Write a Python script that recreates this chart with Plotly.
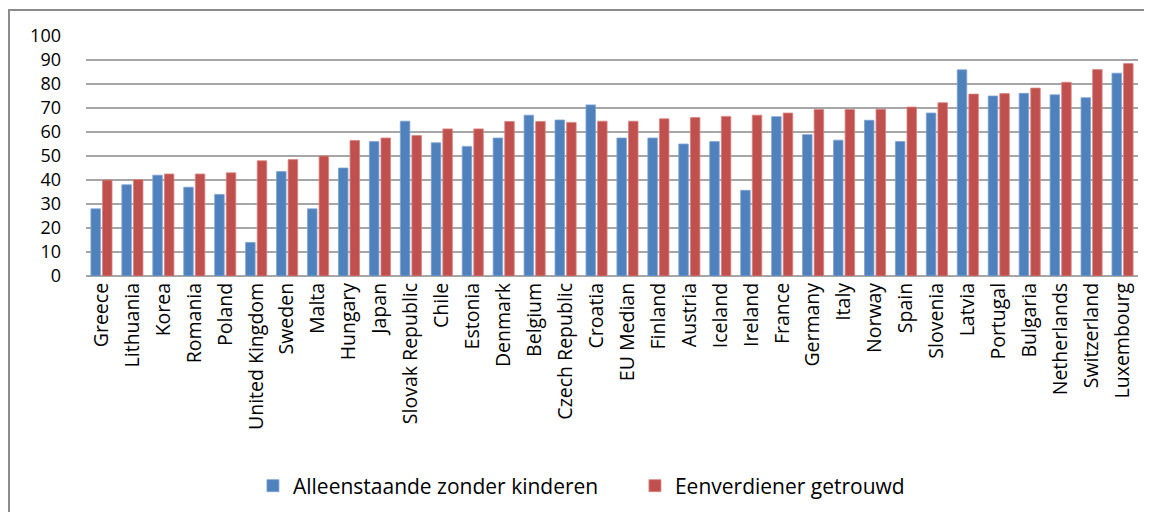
import plotly.graph_objects as go

countries = ["Greece", "Lithuania", "Korea", "Romania", "Poland", "United Kingdom", "Sweden",
             "Malta", "Hungary", "Japan", "Slovak Republic", "Chile", "Estonia", "Denmark",
             "Belgium", "Czech Republic", "Croatia", "EU Median", "Finland", "Austria",
             "Iceland", "Ireland", "France", "Germany", "Italy", "Norway", "Spain",
             "Slovenia", "Latvia", "Portugal", "Bulgaria", "Netherlands", "Switzerland",
             "Luxembourg"]

alleenstaande = [28, 38, 42, 37, 34, 14, 43.5, 28, 45, 56, 64.5, 55.5, 54, 57.5,
                 67, 65, 71.3, 57.5, 57.5, 55, 56, 35.7, 66.4, 58.9, 56.6, 64.9, 56,
                 67.9, 85.9, 75, 76.1, 75.5, 74.3, 84.5]

eenverdiener = [40, 40.2, 42.5, 42.5, 43, 48, 48.5, 50, 56.5, 57.5, 58.5, 61.3, 61.3, 64.4,
                64.4, 64, 64.5, 64.5, 65.5, 66, 66.5, 67, 67.9, 69.4, 69.4, 69.5, 70.4,
                72.2, 75.8, 76, 78.3, 80.7, 86, 88.5]

series_names = ["Alleenstaande zonder kinderen", "Eenverdiener getrouwd"]
y_ticks = [0, 10, 20, 30, 40, 50, 60, 70, 80, 90, 100]

FONT = "Open Sans"

fig = go.Figure()
fig.add_trace(go.Bar(x=countries, y=alleenstaande, name=series_names[0],
                     marker=dict(color="#4F81BD", line=dict(color="#7FA3D3", width=0.8))))
fig.add_trace(go.Bar(x=countries, y=eenverdiener, name=series_names[1],
                     marker=dict(color="#C0504D", line=dict(color="#D98380", width=0.8))))

fig.update_layout(
    width=1152, height=512,
    margin=dict(l=78, r=22, t=28, b=244, autoexpand=False),
    paper_bgcolor="white", plot_bgcolor="white",
    barmode="group", bargap=0.25, bargroupgap=0.18,
    font=dict(family=FONT, size=16, color="#000000"),
    showlegend=True,
    legend=dict(orientation="h", x=0.1587, xanchor="left", y=-0.875, yanchor="middle",
                font=dict(family=FONT, size=21), traceorder="normal",
                itemwidth=30, entrywidth=337, entrywidthmode="pixels",
                bgcolor="rgba(0,0,0,0)"),
    xaxis=dict(tickangle=-90, showgrid=False, showline=False, ticks="",
               tickfont=dict(family=FONT, size=19.5), ticklabelstandoff=2,
               automargin=False),
    yaxis=dict(range=[0, 100], tickvals=y_ticks, showgrid=True, gridcolor="#A6A6A6",
               gridwidth=1.5, zeroline=True, zerolinecolor="#A6A6A6", zerolinewidth=1.5,
               showline=False, ticks="", tickfont=dict(family=FONT, size=18),
               ticklabelstandoff=24, automargin=False),
    shapes=[dict(type="rect", xref="paper", yref="paper",
                 x0=-0.0732, x1=1.2, y0=-1.5, y1=1.108,
                 line=dict(color="#8C8C8C", width=2), fillcolor="rgba(0,0,0,0)",
                 layer="below")],
)

fig.write_html("out.html")
